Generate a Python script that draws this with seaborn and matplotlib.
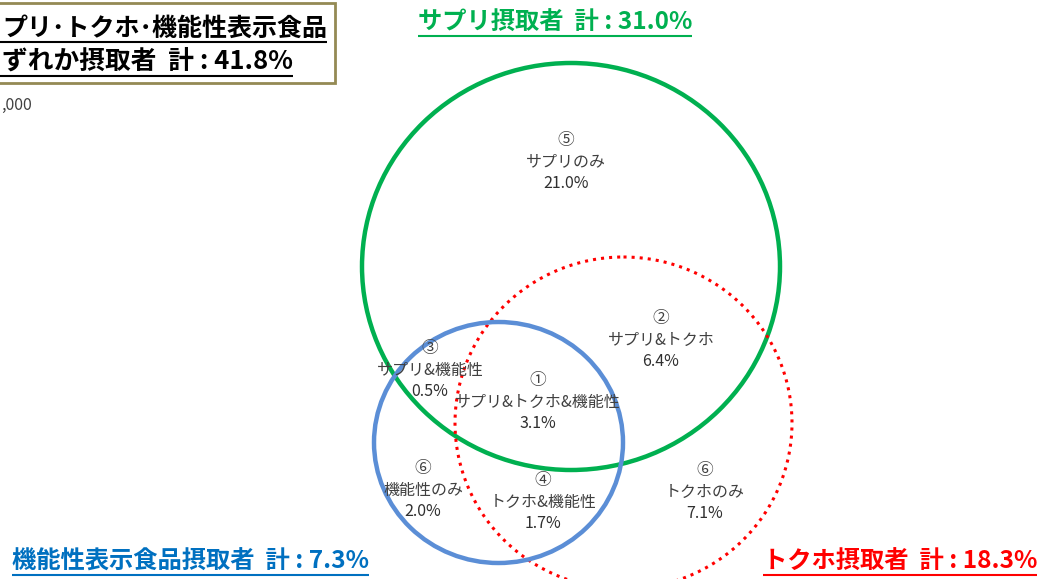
"""
サプリ・トクホ・機能性表示食品 摂取者のベン図
"""

import matplotlib
matplotlib.use('Agg')
import matplotlib.pyplot as plt
from matplotlib.patches import Ellipse, Rectangle
import seaborn as sns

# 各領域のデータ（番号, 名称, 割合%）
region_nums = ['⑤', '②', '③', '①', '⑥', '④', '⑥']
region_names = ['サプリのみ', 'サプリ&トクホ', 'サプリ&機能性', 'サプリ&トクホ&機能性',
                '機能性のみ', 'トクホ&機能性', 'トクホのみ']
region_values = [21.0, 6.4, 0.5, 3.1, 2.0, 1.7, 7.1]

# 各グループの合計
group_names = ['サプリ摂取者', 'トクホ摂取者', '機能性表示食品摂取者']
group_totals = [31.0, 18.3, 7.3]
any_total = 41.8

# レイアウト（ピクセル座標）
region_pos = [(566, 162), (661, 340), (430, 370), (538, 402), (423, 490), (543, 502), (705, 492)]
circles = [  # (cx, cy, w, h, color, style)
    (571, 266.5, 418, 407, '#00B050', '-'),
    (623.5, 423, 337, 332, '#FF0000', ':'),
    (498.5, 442.5, 249, 241, '#5B8ED6', '-'),
]
title_cfg = [  # (x, y, ha, color)
    (555, 23, 'center', '#00B050'),
    (1037, 562, 'right', '#FF0000'),
    (12, 562, 'left', '#0070C0'),
]

sns.set_theme(style='white')
plt.rcParams['font.family'] = ['Noto Sans CJK JP', 'DejaVu Sans']

fig = plt.figure(figsize=(10.47, 5.79), dpi=100)
ax = fig.add_axes([0, 0, 1, 1])
ax.set_xlim(0, 1047)
ax.set_ylim(579, 0)
ax.axis('off')

# 円
for cx, cy, w, h, col, ls in circles:
    lw = 2.2 if ls == ':' else 3.2
    ax.add_patch(Ellipse((cx, cy), w, h, fill=False, edgecolor=col, lw=lw, linestyle=ls))

# 領域ラベル
for num, name, val, (x, y) in zip(region_nums, region_names, region_values, region_pos):
    ax.text(x, y - 22, num, ha='center', va='center', fontsize=12, color='#404040')
    ax.text(x, y, name, ha='center', va='center', fontsize=11.5, color='#404040')
    ax.text(x, y + 22, f'{val:.1f}%', ha='center', va='center', fontsize=11.5, color='#303030')

underlined = []  # (text, color, lw, 左端まで伸ばすか)

# グループタイトル
for name, tot, (x, y, ha, col) in zip(group_names, group_totals, title_cfg):
    t = ax.text(x, y, f'{name}  計 : {tot:.1f}%', ha=ha, va='center', fontsize=17.5,
                fontweight='bold', color=col)
    underlined.append((t, col, 1.5, False))

# 左上のボックス（左端は画面外で切れている）
ax.add_patch(Rectangle((-20, 3), 355, 80, fill=False, edgecolor='#948A54', lw=2))
t1 = ax.text(327, 29, 'プリ･トクホ･機能性表示食品', ha='right', va='center',
             fontsize=18, fontweight='bold', color='black')
t2 = ax.text(293, 61, f'ずれか摂取者  計 : {any_total:.1f}%', ha='right', va='center',
             fontsize=18.5, fontweight='bold', color='black')
underlined += [(t1, 'black', 1.5, True), (t2, 'black', 1.5, True)]
ax.text(1, 105, ',000', ha='left', va='center', fontsize=11.5, color='#404040')

# 下線
fig.canvas.draw()
renderer = fig.canvas.get_renderer()
inv = ax.transData.inverted()
for t, col, lw, to_edge in underlined:
    bb = t.get_window_extent(renderer)
    (x0, y0), (x1, _) = inv.transform([(bb.x0, bb.y0), (bb.x1, bb.y1)])
    if to_edge:
        x0 = 0
    ax.plot([x0, x1], [y0 + 1, y0 + 1], color=col, lw=lw, solid_capstyle='butt')

fig.savefig('out.png', dpi=100)
